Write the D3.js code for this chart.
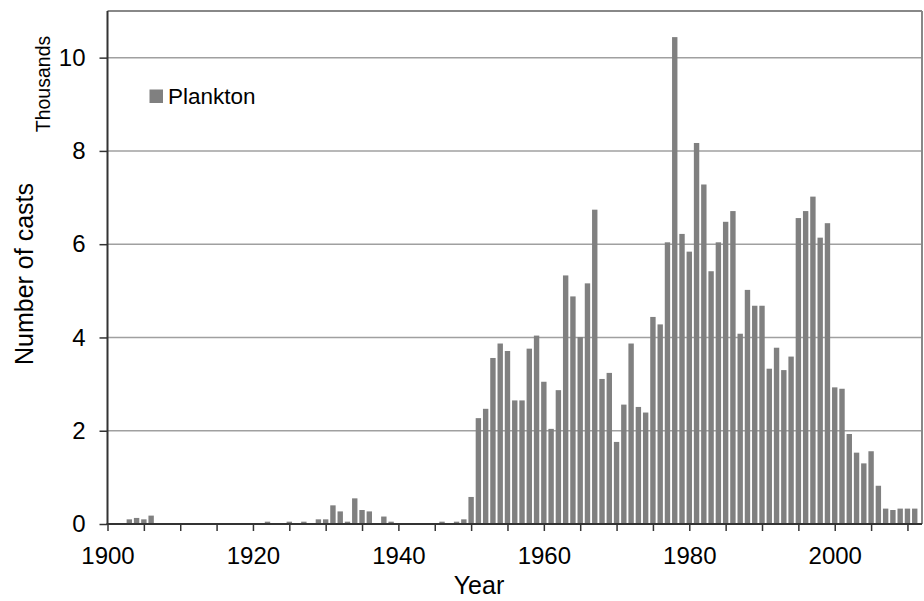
<!DOCTYPE html>
<html><head><meta charset="utf-8">
<script src="https://cdn.jsdelivr.net/npm/d3@7"></script>
<style>html,body{margin:0;padding:0;background:#fff;}svg{display:block;font-family:Arial,"Liberation Sans",sans-serif;}</style>
</head><body>
<script>
// Years 1900..2011
const years = d3.range(1900, 2012);
// Number of plankton casts, thousands
const casts = [
  0, 0, 0, 0.10, 0.13, 0.10, 0.18, 0, 0, 0,            // 1900-1909
  0, 0, 0, 0, 0, 0, 0, 0, 0, 0,                        // 1910-1919
  0, 0, 0.05, 0, 0, 0.05, 0, 0.05, 0, 0.10,            // 1920-1929
  0.10, 0.40, 0.27, 0.05, 0.55, 0.30, 0.27, 0, 0.16, 0.05, // 1930-1939
  0, 0, 0, 0, 0, 0, 0.05, 0, 0.05, 0.10,               // 1940-1949
  0.58, 2.27, 2.47, 3.56, 3.87, 3.71, 2.65, 2.65, 3.76, 4.04, // 1950-1959
  3.05, 2.04, 2.87, 5.33, 4.88, 4.01, 5.16, 6.74, 3.11, 3.24, // 1960-1969
  1.76, 2.56, 3.87, 2.51, 2.39, 4.44, 4.28, 6.04, 10.44, 6.22, // 1970-1979
  5.84, 8.17, 7.28, 5.42, 6.04, 6.48, 6.71, 4.08, 5.02, 4.68, // 1980-1989
  4.68, 3.33, 3.78, 3.30, 3.59, 6.56, 6.71, 7.02, 6.14, 6.45, // 1990-1999
  2.93, 2.90, 1.93, 1.53, 1.30, 1.56, 0.82, 0.33, 0.30, 0.33, // 2000-2009
  0.33, 0.33                                           // 2010-2011
];
const yTicks = [0, 2, 4, 6, 8, 10];
const xLabelYears = [1900, 1920, 1940, 1960, 1980, 2000];
const xTickYears = d3.range(1900, 2011, 5);
const seriesName = "Plankton";

const W = 924, H = 601;
const L = 107.5, R = 922, T = 11, B = 524;
const svg = d3.select("body").append("svg").attr("width", W).attr("height", H);

const x = d3.scaleLinear().domain([1900, 2012]).range([L, R]);
const y = d3.scaleLinear().domain([0, 11]).range([B, T]);
const barW = 5.4;

// gridlines
svg.append("g").selectAll("line").data(yTicks.filter(d => d > 0)).join("line")
  .attr("x1", L).attr("x2", R).attr("y1", d => y(d)).attr("y2", d => y(d))
  .attr("stroke", "#a0a0a0").attr("stroke-width", 1.5);

// top & right border
svg.append("line").attr("x1", L).attr("x2", R).attr("y1", T).attr("y2", T)
  .attr("stroke", "#888").attr("stroke-width", 2);
svg.append("line").attr("x1", R).attr("x2", R).attr("y1", T).attr("y2", B)
  .attr("stroke", "#888").attr("stroke-width", 2);

// bars
const data = years.map((yr, i) => ({ yr, v: casts[i] }));
svg.append("g").selectAll("rect").data(data.filter(d => d.v > 0)).join("rect")
  .attr("x", d => x(d.yr) - barW / 2)
  .attr("width", barW)
  .attr("y", d => y(d.v))
  .attr("height", d => y(0) - y(d.v))
  .attr("fill", "#808080");

// y axis
const yAxis = d3.axisLeft(y).tickValues(yTicks).tickSize(8).tickPadding(14).tickFormat(d3.format("d"));
const gy = svg.append("g").attr("transform", `translate(${L},0)`).call(yAxis);
gy.select(".domain").remove();
gy.selectAll(".tick line").attr("stroke", "#333").attr("stroke-width", 1.5);
gy.selectAll(".tick text").attr("font-size", 24).attr("fill", "#000")
  .attr("font-family", "Arial, 'Liberation Sans', sans-serif");
svg.append("line").attr("x1", L).attr("x2", L).attr("y1", T).attr("y2", B + 1)
  .attr("stroke", "#333").attr("stroke-width", 2);

// x axis
const xAxis = d3.axisBottom(x).tickValues(xTickYears).tickSize(7)
  .tickFormat(d => xLabelYears.includes(d) ? String(d) : "");
const gx = svg.append("g").attr("transform", `translate(0,${B})`).call(xAxis);
gx.select(".domain").remove();
gx.selectAll(".tick line").attr("stroke", "#333").attr("stroke-width", 1.5);
gx.selectAll(".tick text").attr("font-size", 24).attr("fill", "#000")
  .attr("dy", null).attr("y", 40)
  .attr("font-family", "Arial, 'Liberation Sans', sans-serif");
svg.append("line").attr("x1", L - 1).attr("x2", R).attr("y1", B).attr("y2", B)
  .attr("stroke", "#333").attr("stroke-width", 2);

// axis titles
svg.append("text").attr("x", 479).attr("y", 594).attr("text-anchor", "middle")
  .attr("font-size", 25).attr("fill", "#000").text("Year");
svg.append("text").attr("transform", "translate(33,274) rotate(-90)")
  .attr("text-anchor", "middle").attr("font-size", 25).attr("fill", "#000").text("Number of casts");
svg.append("text").attr("transform", "translate(50,84) rotate(-90)")
  .attr("text-anchor", "middle").attr("font-size", 19.5).attr("fill", "#000").text("Thousands");

// legend
svg.append("rect").attr("x", 149.5).attr("y", 89.5).attr("width", 13.5).attr("height", 13.5).attr("fill", "#808080");
svg.append("text").attr("x", 168).attr("y", 103.5).attr("font-size", 22.5).attr("fill", "#000").text(seriesName);
</script>
</body></html>
